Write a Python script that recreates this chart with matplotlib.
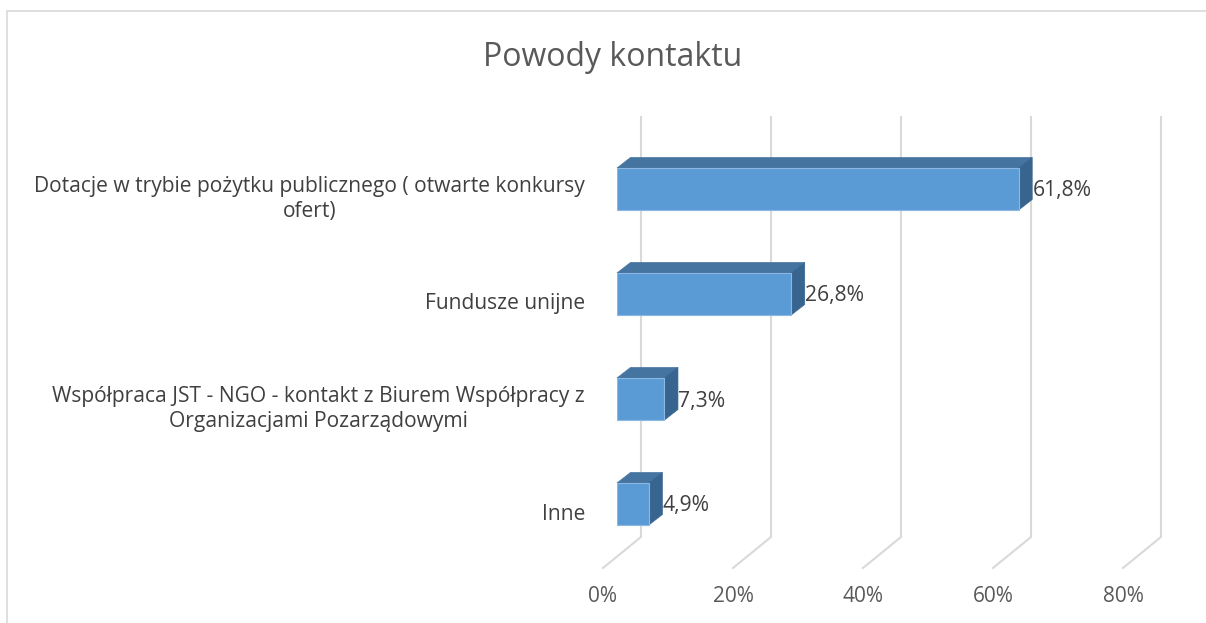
import numpy as np
import matplotlib
matplotlib.use("Agg")
import matplotlib.pyplot as plt
from matplotlib.patches import Polygon, Rectangle

plt.rcParams['font.family'] = ['Open Sans', 'DejaVu Sans']

# data
categories = ["Dotacje w trybie pożytku publicznego ( otwarte konkursy\nofert)",
              "Fundusze unijne",
              "Współpraca JST - NGO - kontakt z Biurem Współpracy z\nOrganizacjami Pozarządowymi",
              "Inne"]
values = [61.8, 26.8, 7.3, 4.9]
ticks = [0, 20, 40, 60, 80]
tick_labels = ["0%", "20%", "40%", "60%", "80%"]
title = "Powody kontaktu"

W, H = 1206, 623
fig = plt.figure(figsize=(W / 100, H / 100), dpi=100)

# outer chart border
fig.patches.append(Rectangle((7 / W, -0.1), 1.2, 1 - 11 / H + 0.1, transform=fig.transFigure,
                             fill=False, edgecolor='#D9D9D9', linewidth=1.2))

ax = fig.add_axes([617 / W, (H - 556.5) / H, 520 / W, 420 / H])
ax.set_xlim(0, 80)
ax.set_ylim(-0.5, 3.5)
ax.axis('off')

fig.canvas.draw()


def shift(x, y, dx, dy):
    # move a data point by dx, dy pixels (y up)
    p = ax.transData.transform((x, y)) + np.array([dx, dy])
    return ax.transData.inverted().transform(p)


back = (24, 19.5)     # back wall relative to bar front plane
front = (-14, -11.5)  # front floor edge
depth = (13.5, 10.5)  # bar depth

grid_c = '#D9D9D9'
for t, lab in zip(ticks, tick_labels):
    top = shift(t, 3.5, *back)
    bot = shift(t, -0.5, *back)
    fr = shift(t, -0.5, *front)
    ax.plot([top[0], bot[0], fr[0]], [top[1], bot[1], fr[1]], color=grid_c,
            linewidth=1.5, zorder=1, clip_on=False)
    lp = shift(t, -0.5, front[0], front[1] - 28)
    ax.text(lp[0], lp[1], lab, ha='center', va='center', fontsize=15,
            color='#595959')

ypos = np.arange(len(values))[::-1]
bh = 0.4
ax.barh(ypos, values, height=bh, color='#5B9BD5', edgecolor='#8DB7E3',
        linewidth=0.8, zorder=4)

for y, v, cat in zip(ypos, values, categories):
    t0 = (0, y + bh / 2)
    t1 = (v, y + bh / 2)
    top_face = [t0, t1, shift(*t1, *depth), shift(*t0, *depth)]
    ax.add_patch(Polygon(top_face, closed=True, facecolor='#4674A1',
                         edgecolor='#4674A1', linewidth=0.5, zorder=3, clip_on=False))
    s0 = (v, y - bh / 2)
    side_face = [s0, t1, shift(*t1, *depth), shift(*s0, *depth)]
    ax.add_patch(Polygon(side_face, closed=True, facecolor='#386590',
                         edgecolor='#386590', linewidth=0.5, zorder=3, clip_on=False))
    lp = shift(v, y, depth[0] + 0.5, -2)
    ax.text(lp[0], lp[1], f"{v:.1f}%".replace('.', ','), ha='left', va='center',
            fontsize=15.2, color='#404040', zorder=5)
    cp = shift(0, y, -32, -10)
    ax.text(cp[0], cp[1], cat, ha='right', va='center', multialignment='center',
            fontsize=15.1, color='#404040', linespacing=1.25)

fig.text(613 / W, 1 - 58 / H, title, ha='center', va='center', fontsize=23,
         color='#595959')

fig.savefig('out.png', dpi=100)
